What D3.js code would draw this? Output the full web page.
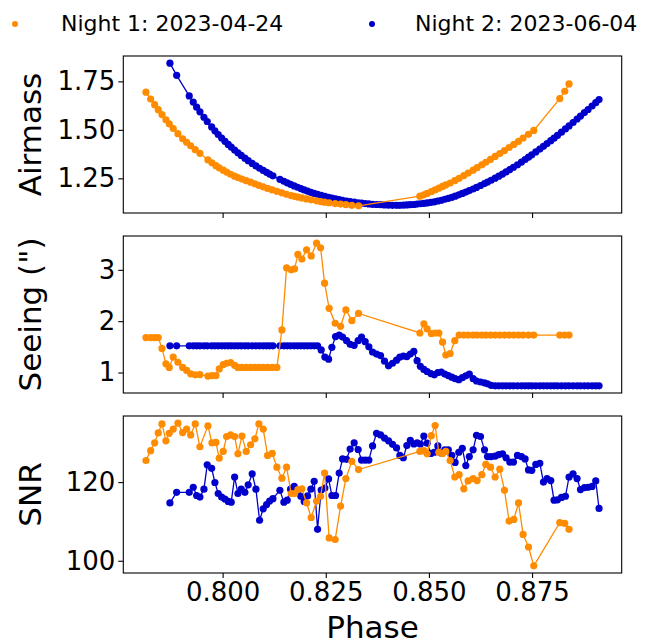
<!DOCTYPE html>
<html><head><meta charset="utf-8">
<script src="https://cdn.jsdelivr.net/npm/d3@7"></script>
<style>body{margin:0;background:#fff} svg{display:block} text{font-family:"DejaVu Sans",sans-serif;fill:#000}</style>
</head><body><svg id="c" width="653" height="644"></svg>
<script>
// ---------- data ----------
const night1Label = "Night 1: 2023-04-24";
const night2Label = "Night 2: 2023-06-04";

const night1Phase = [0.78142,0.78256,0.78353,0.78440,0.78530,0.78626,0.78706,0.78803,0.78917,0.79031,0.79128,0.79225,0.79336,0.79450,
0.79644,0.79741,0.79838,0.79918,0.80015,0.80097,0.80194,0.80291,0.80371,0.80468,0.80572,0.80678,0.80782,0.80879,0.80984,0.81090,0.81202,0.81315,0.81437,0.81550,0.81662,0.81744,0.81824,0.81921,0.82035,0.82146,0.82277,0.82374,0.82471,0.82582,0.82728,0.82859,0.82987,0.83132,0.83295,
0.84780,0.84877,0.84956,0.85058,0.85150,0.85240,0.85330,0.85409,0.85514,0.85627,0.85732,0.85846,0.85950,0.86071,0.86168,0.86282,0.86378,0.86492,0.86604,0.86718,0.86831,0.86943,0.87057,0.87171,0.87282,0.87413,0.87541,
0.88171,0.88292,0.88396];
const night1Airmass = [1.694,1.659,1.630,1.604,1.579,1.552,1.531,1.507,1.480,1.454,1.436,1.418,1.398,1.379,
1.345,1.330,1.315,1.304,1.292,1.282,1.271,1.261,1.254,1.246,1.238,1.230,1.222,1.214,1.206,1.198,1.190,1.183,1.175,1.168,1.161,1.157,1.153,1.149,1.144,1.139,1.134,1.130,1.127,1.124,1.120,1.117,1.114,1.111,1.108,
1.158,1.165,1.172,1.181,1.190,1.199,1.208,1.216,1.226,1.238,1.250,1.264,1.277,1.292,1.305,1.320,1.333,1.348,1.363,1.378,1.393,1.409,1.425,1.441,1.458,1.477,1.497,
1.661,1.699,1.737];
const night1Seeing = [1.68,1.68,1.68,1.68,1.47,1.17,1.10,1.30,1.20,1.10,1.04,0.975,0.955,0.96,
0.93,0.94,0.94,1.07,1.155,1.18,1.195,1.14,1.10,1.10,1.10,1.10,1.10,1.10,1.10,1.10,1.10,1.10,1.83,3.04,3.00,3.02,3.30,3.21,3.39,3.27,3.52,3.43,2.74,2.25,1.96,1.90,2.22,2.01,2.15,
1.77,1.95,1.85,1.76,1.77,1.77,1.59,1.34,1.37,1.62,1.73,1.73,1.73,1.73,1.73,1.73,1.73,1.73,1.73,1.73,1.73,1.73,1.73,1.73,1.73,1.73,1.73,
1.73,1.73,1.73];
const night1SNR = [125.5,128.0,130.0,132.5,134.8,130.5,132.4,133.5,135.0,132.6,133.5,132.0,134.8,129.0,
134.3,130.0,130.1,126.1,127.8,131.6,132.0,131.6,127.2,131.7,127.8,129.5,131.0,134.8,133.5,126.8,127.3,123.8,121.0,123.8,117.1,117.1,118.1,118.3,114.7,111.0,115.2,116.4,122.3,105.8,105.4,113.9,120.9,125.3,123.2,
127.8,128.0,127.2,131.8,134.4,127.6,127.3,127.8,125.5,121.3,121.9,118.3,120.3,120.9,120.4,121.9,124.5,123.8,121.3,123.3,117.9,110.1,110.5,114.7,106.7,103.5,98.7,
109.7,109.5,108.0];

const night2Phase = [0.78723,0.78886,0.79191,0.79288,0.79370,0.79450,0.79547,0.79627,0.79734,0.79813,
0.79893,0.79976,0.80056,0.80136,0.80208,0.80291,0.80371,0.80451,0.80540,0.80620,
0.80717,0.80807,0.80896,0.80984,0.81066,0.81139,0.81219,0.81388,0.81485,0.81565,
0.81647,0.81735,0.81817,0.81897,0.81977,0.82059,0.82139,0.82219,0.82301,0.82389,
0.82478,0.82568,0.82648,0.82737,0.82825,0.82907,0.83004,0.83091,0.83188,0.83285,
0.83367,0.83455,0.83544,0.83634,0.83731,0.83828,0.83924,0.84021,0.84118,0.84215,
0.84295,0.84380,0.84465,0.84549,0.84634,0.84714,0.84792,0.84877,0.84956,0.85046,
0.85131,0.85216,0.85300,0.85385,0.85470,0.85555,0.85635,0.85724,0.85809,0.85894,
0.85979,0.86071,0.86153,0.86250,0.86347,0.86420,0.86507,0.86604,0.86693,0.86783,
0.86870,0.86960,0.87049,0.87146,0.87243,0.87331,0.87413,0.87493,0.87590,0.87687,
0.87776,0.87863,0.87953,0.88033,0.88115,0.88212,0.88309,0.88396,0.88493,0.88590,
0.88673,0.88769,0.88857,0.88954,0.89043,0.89123];
const night2Airmass = [1.844,1.781,1.675,1.643,1.617,1.593,1.565,1.543,1.515,1.495,
1.476,1.458,1.441,1.425,1.411,1.396,1.382,1.368,1.354,1.341,
1.327,1.314,1.302,1.291,1.281,1.272,1.263,1.245,1.235,1.227,
1.219,1.211,1.204,1.197,1.190,1.184,1.178,1.172,1.167,1.162,
1.157,1.152,1.148,1.144,1.140,1.137,1.133,1.130,1.127,1.124,
1.122,1.120,1.118,1.116,1.115,1.114,1.113,1.112,1.111,1.111,
1.111,1.112,1.113,1.114,1.115,1.117,1.119,1.121,1.123,1.126,
1.129,1.133,1.137,1.142,1.147,1.152,1.158,1.165,1.172,1.179,
1.187,1.195,1.203,1.213,1.223,1.231,1.240,1.251,1.261,1.272,
1.283,1.295,1.307,1.320,1.334,1.347,1.359,1.371,1.386,1.401,
1.415,1.429,1.444,1.457,1.471,1.488,1.505,1.520,1.538,1.556,
1.571,1.589,1.605,1.623,1.640,1.656];
const night2Seeing = [1.52,1.52,1.52,1.52,1.52,1.52,1.52,1.52,1.52,1.52,
1.52,1.52,1.52,1.52,1.52,1.52,1.52,1.52,1.52,1.52,
1.52,1.52,1.52,1.52,1.52,1.52,1.52,1.52,1.52,1.52,
1.52,1.52,1.52,1.52,1.52,1.52,1.52,1.52,1.52,1.44,
1.30,1.26,1.49,1.70,1.73,1.69,1.62,1.55,1.53,1.62,
1.69,1.60,1.50,1.40,1.36,1.33,1.22,1.13,1.18,1.24,
1.30,1.32,1.31,1.36,1.41,1.23,1.12,1.06,1.02,0.98,
0.955,1.00,1.01,0.97,0.94,0.91,0.88,0.86,0.90,0.935,
0.97,0.88,0.835,0.815,0.80,0.78,0.75,0.74,0.74,0.74,
0.74,0.74,0.74,0.74,0.74,0.74,0.74,0.74,0.74,0.74,
0.74,0.74,0.74,0.74,0.74,0.74,0.74,0.74,0.74,0.74,
0.74,0.74,0.74,0.74,0.74,0.74];
const night2SNR = [114.7,117.4,117.4,118.7,116.6,116.2,118.2,124.4,123.5,119.9,
117.1,116.2,115.7,115.1,114.9,121.3,117.1,118.2,117.4,119.3,
122.1,118.2,110.3,113.2,114.3,115.2,115.8,117.9,114.9,115.4,
118.2,118.9,117.6,116.4,115.1,116.5,118.2,120.2,108.0,118.0,
118.5,120.8,116.6,116.6,122.3,125.9,125.8,128.4,130.0,128.3,
125.6,125.6,125.6,129.2,132.4,132.0,131.2,130.5,129.6,128.7,
126.8,126.2,129.3,130.6,129.7,130.0,129.7,131.7,129.9,127.3,
127.6,129.2,127.4,128.2,128.2,126.8,125.0,127.6,128.6,124.2,
126.5,128.2,131.9,131.6,128.2,126.5,126.5,126.6,127.0,127.2,
126.2,125.1,125.1,126.8,126.5,125.9,123.1,123.0,124.5,124.8,
120.0,120.9,120.4,115.4,115.5,116.1,116.4,121.3,122.1,120.9,
118.1,118.6,118.7,118.9,120.3,113.3];

const phaseTicks = [0.800, 0.825, 0.850, 0.875];
const airmassTicks = [1.25, 1.50, 1.75];
const seeingTicks = [1, 2, 3];
const snrTicks = [100, 120];

// ---------- drawing ----------
const svg = d3.select("#c");
const colN1 = "#ff8c00", colN2 = "#0000cd";
const L = 123.3, R = 621.7;
const tickFont = 26, labelFont = 31, legendFont = 22;

function padded(vals){ const e = d3.extent(vals); const p = 0.05*(e[1]-e[0]); return [e[0]-p, e[1]+p]; }

const x = d3.scaleLinear().domain(padded(night1Phase.concat(night2Phase))).range([L, R]);

const panels = [
  {top:56,  bottom:213, a:night1Airmass, b:night2Airmass, ticks:airmassTicks, fmt:d3.format(".2f"), label:"Airmass"},
  {top:236, bottom:393, a:night1Seeing,  b:night2Seeing,  ticks:seeingTicks,  fmt:d3.format("d"),   label:"Seeing (\")"},
  {top:416, bottom:573, a:night1SNR,     b:night2SNR,     ticks:snrTicks,     fmt:d3.format("d"),   label:"SNR"}
];

panels.forEach((p, i) => {
  const y = d3.scaleLinear().domain(padded(p.a.concat(p.b))).range([p.bottom, p.top]);
  const g = svg.append("g");
  const series = [
    {ph:night2Phase, v:p.b, c:colN2},
    {ph:night1Phase, v:p.a, c:colN1}
  ];
  series.forEach(s => {
    const pts = s.ph.map((d, k) => [d, s.v[k]]);
    g.append("path").datum(pts)
      .attr("d", d3.line().x(d => x(d[0])).y(d => y(d[1])))
      .attr("fill", "none").attr("stroke", s.c).attr("stroke-width", 1.3);
    g.selectAll(null).data(pts).enter().append("circle")
      .attr("cx", d => x(d[0])).attr("cy", d => y(d[1])).attr("r", 3.6)
      .attr("fill", s.c);
  });
  // y axis
  const ya = svg.append("g").attr("transform", `translate(${L},0)`)
    .call(d3.axisLeft(y).tickValues(p.ticks).tickFormat(p.fmt).tickSize(5).tickPadding(3));
  ya.select(".domain").remove();
  ya.selectAll("text").attr("font-size", tickFont).attr("font-family", "DejaVu Sans").attr("fill", "#000");
  ya.selectAll("line").attr("stroke", "#000").attr("stroke-width", 1.1);
  // x axis
  const xa = svg.append("g").attr("transform", `translate(0,${p.bottom})`)
    .call(d3.axisBottom(x).tickValues(phaseTicks).tickFormat(i === 2 ? d3.format(".3f") : () => "").tickSize(5).tickPadding(5));
  xa.select(".domain").remove();
  xa.selectAll("text").attr("font-size", tickFont).attr("font-family", "DejaVu Sans").attr("fill", "#000");
  xa.selectAll("line").attr("stroke", "#000").attr("stroke-width", 1.1);
  // frame
  svg.append("rect").attr("x", L).attr("y", p.top).attr("width", R - L).attr("height", p.bottom - p.top)
    .attr("fill", "none").attr("stroke", "#000").attr("stroke-width", 1.1);
  // y label
  svg.append("text").attr("transform", `translate(41,${(p.top + p.bottom) / 2}) rotate(-90)`)
    .attr("text-anchor", "middle").attr("font-size", labelFont).text(p.label);
});

svg.append("text").attr("x", (L + R) / 2).attr("y", 638).attr("text-anchor", "middle")
  .attr("font-size", labelFont).text("Phase");

// legend
const legend = [{label:night1Label, c:colN1, x:15, tx:61}, {label:night2Label, c:colN2, x:372, tx:415}];
legend.forEach(d => {
  svg.append("circle").attr("cx", d.x).attr("cy", 24).attr("r", 3).attr("fill", d.c);
  svg.append("text").attr("x", d.tx).attr("y", 31).attr("font-size", legendFont).text(d.label);
});
</script></body></html>
